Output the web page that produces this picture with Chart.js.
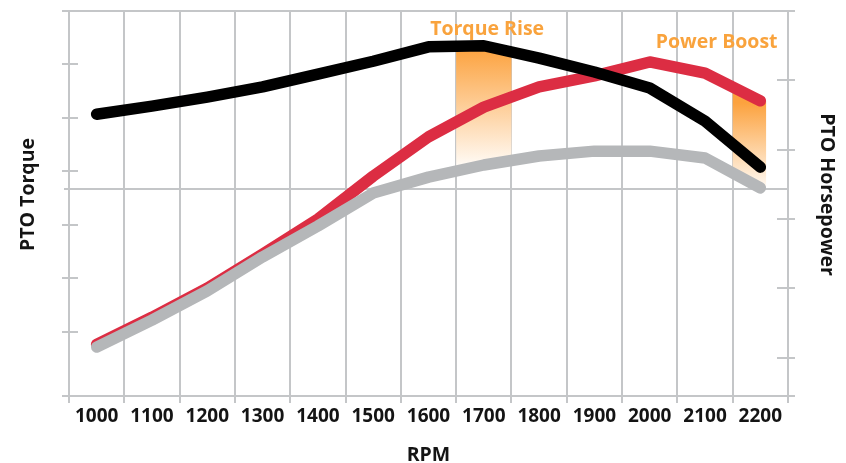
<!DOCTYPE html>
<html>
<head>
<meta charset="utf-8">
<script src="https://cdn.jsdelivr.net/npm/chart.js@4/dist/chart.umd.min.js"></script>
<style>
html,body{margin:0;padding:0;background:#fff;}
#wrap{width:846px;height:463px;position:relative;}
</style>
</head>
<body>
<div id="wrap"><canvas id="c" width="846" height="463"></canvas></div>
<script>
// ---- data ----
const rpmLabels = ['1000','1100','1200','1300','1400','1500','1600','1700','1800','1900','2000','2100','2200'];
const torque     = [707, 722, 739, 758, 782, 806, 833, 835, 812, 786, 756, 694, 608];
const hpBoost    = [103.9, 111.7, 120.1, 129.9, 140.0, 152.4, 163.7, 172.3, 178.1, 181.3, 185.3, 182.1, 174.1];
const hpStandard = [103.1, 110.9, 119.3, 129.1, 138.0, 147.5, 152.1, 155.6, 158.2, 159.6, 159.6, 157.6, 149.0];
const torqueTicks = [180, 300, 400, 500, 600, 700, 800, 900];
const hpTicks     = [89, 100, 120, 140, 160, 180, 200];
const separatorHp = 148.7;
const bandLabels  = ['Torque Rise', 'Power Boost'];
const bandCategory = ['1700', '2200'];

// ---- styles ----
const GRID = '#c4c6c8';
const TXT = '#141414';
const ORANGE = '#f9a33d';
const LW = 11.5;
const FONT = '"Open Sans", "DejaVu Sans", sans-serif';

const bands = [
  {cat: bandCategory[0], top: 0, bottom: 2, toEnd: false, text: bandLabels[0], textPos: 7.06, textDy: 24},
  {cat: bandCategory[1], top: 1, bottom: 2, toEnd: true,  text: bandLabels[1], textPos: 11.21, textDy: 37}
];

const decor = {
  id: 'decor',
  beforeDatasetsDraw(chart) {
    const {ctx, chartArea: a, scales} = chart;
    const x = scales.x, yT = scales.yT, yH = scales.yH;
    ctx.save();
    ctx.strokeStyle = GRID;
    ctx.lineWidth = 2;
    ctx.beginPath();
    ctx.moveTo(a.left - 7, a.top); ctx.lineTo(a.right + 7, a.top);
    ctx.moveTo(a.left - 7, a.bottom); ctx.lineTo(a.right + 7, a.bottom);
    const sy = Math.round(yH.getPixelForValue(separatorHp));
    ctx.moveTo(a.left - 5, sy); ctx.lineTo(a.right, sy);
    yT.ticks.forEach(t => {
      const py = Math.round(yT.getPixelForValue(t.value));
      ctx.moveTo(a.left - 7, py); ctx.lineTo(a.left + 9, py);
    });
    yH.ticks.forEach(t => {
      const py = Math.round(yH.getPixelForValue(t.value));
      ctx.moveTo(a.right - 11, py); ctx.lineTo(a.right + 7, py);
    });
    ctx.stroke();
    ctx.restore();

    bands.forEach(b => {
      const idx = rpmLabels.indexOf(b.cat);
      const tp = chart.getDatasetMeta(b.top).data;
      const bp = chart.getDatasetMeta(b.bottom).data;
      const cw = x.getPixelForValue(1) - x.getPixelForValue(0);
      const cx = x.getPixelForValue(idx);
      const x0 = cx - cw / 2;
      const x1 = b.toEnd ? cx + LW / 2 : cx + cw / 2;
      ctx.save();
      ctx.beginPath();
      ctx.rect(x0, a.top, x1 - x0, a.bottom - a.top);
      ctx.clip();
      ctx.beginPath();
      const n = tp.length - 1;
      ctx.moveTo(tp[0].x - 30, tp[0].y);
      tp.forEach(p => ctx.lineTo(p.x, p.y));
      ctx.lineTo(tp[n].x + 30, tp[n].y);
      ctx.lineTo(bp[n].x + 30, bp[n].y);
      for (let i = n; i >= 0; i--) ctx.lineTo(bp[i].x, bp[i].y);
      ctx.lineTo(bp[0].x - 30, bp[0].y);
      ctx.closePath();
      const g = ctx.createLinearGradient(0, tp[idx].y + 2, 0, bp[idx].y);
      g.addColorStop(0, '#fca23e');
      g.addColorStop(1, '#fffaf4');
      ctx.fillStyle = g;
      ctx.fill();
      ctx.restore();
    });
  },
  afterDraw(chart) {
    const {ctx, chartArea: a, scales} = chart;
    const x = scales.x;
    ctx.save();
    ctx.font = 'bold 19.5px ' + FONT;
    ctx.textAlign = 'center';
    ctx.textBaseline = 'alphabetic';
    ctx.fillStyle = ORANGE;
    bands.forEach(b => {
      ctx.fillText(b.text, x.getPixelForValue(b.textPos), a.top + b.textDy);
    });
    ctx.fillStyle = TXT;
    ctx.fillText('RPM', (a.left + a.right) / 2, a.bottom + 65);
    const midY = (a.top + a.bottom) / 2 - 9;
    ctx.save();
    ctx.translate(a.left - 35, midY);
    ctx.rotate(-Math.PI / 2);
    ctx.fillText('PTO Torque', 0, 0);
    ctx.restore();
    ctx.save();
    ctx.translate(a.right + 32.5, midY);
    ctx.rotate(Math.PI / 2);
    ctx.fillText('PTO Horsepower', 0, 0);
    ctx.restore();
    ctx.restore();
  }
};

const lineDs = (label, data, color, axis, order) => ({
  label, data, yAxisID: axis, borderColor: color, backgroundColor: color,
  borderWidth: LW, borderCapStyle: 'round', borderJoinStyle: 'round',
  pointRadius: 0, pointHoverRadius: 0, tension: 0, fill: false, order, clip: false
});

new Chart(document.getElementById('c'), {
  type: 'line',
  data: {
    labels: rpmLabels,
    datasets: [
      lineDs('PTO Torque', torque, '#000000', 'yT', 0),
      lineDs('PTO Horsepower (Power Boost)', hpBoost, '#dc2d43', 'yH', 2),
      lineDs('PTO Horsepower', hpStandard, '#b5b7b9', 'yH', 1)
    ]
  },
  options: {
    responsive: false,
    animation: false,
    devicePixelRatio: 1,
    layout: {padding: {top: 11, left: 0, right: 0, bottom: 0}},
    plugins: {legend: {display: false}, tooltip: {enabled: false}},
    events: [],
    scales: {
      x: {
        type: 'category',
        offset: true,
        grid: {offset: true, color: GRID, lineWidth: 2, tickLength: 7, drawTicks: true},
        border: {display: false},
        ticks: {color: TXT, font: {family: FONT, weight: 'bold', size: 19}, padding: 2, maxRotation: 0, autoSkip: false},
        afterFit(s) { s.height = 67; }
      },
      yT: {
        type: 'linear', position: 'left', min: 180, max: 900,
        grid: {display: false}, border: {display: false},
        ticks: {display: false},
        afterBuildTicks(s) { s.ticks = torqueTicks.map(v => ({value: v})); },
        afterFit(s) { s.width = 69; }
      },
      yH: {
        type: 'linear', position: 'right', min: 89, max: 200,
        grid: {display: false}, border: {display: false},
        ticks: {display: false},
        afterBuildTicks(s) { s.ticks = hpTicks.map(v => ({value: v})); },
        afterFit(s) { s.width = 58; }
      }
    }
  },
  plugins: [decor]
});
</script>
</body>
</html>
